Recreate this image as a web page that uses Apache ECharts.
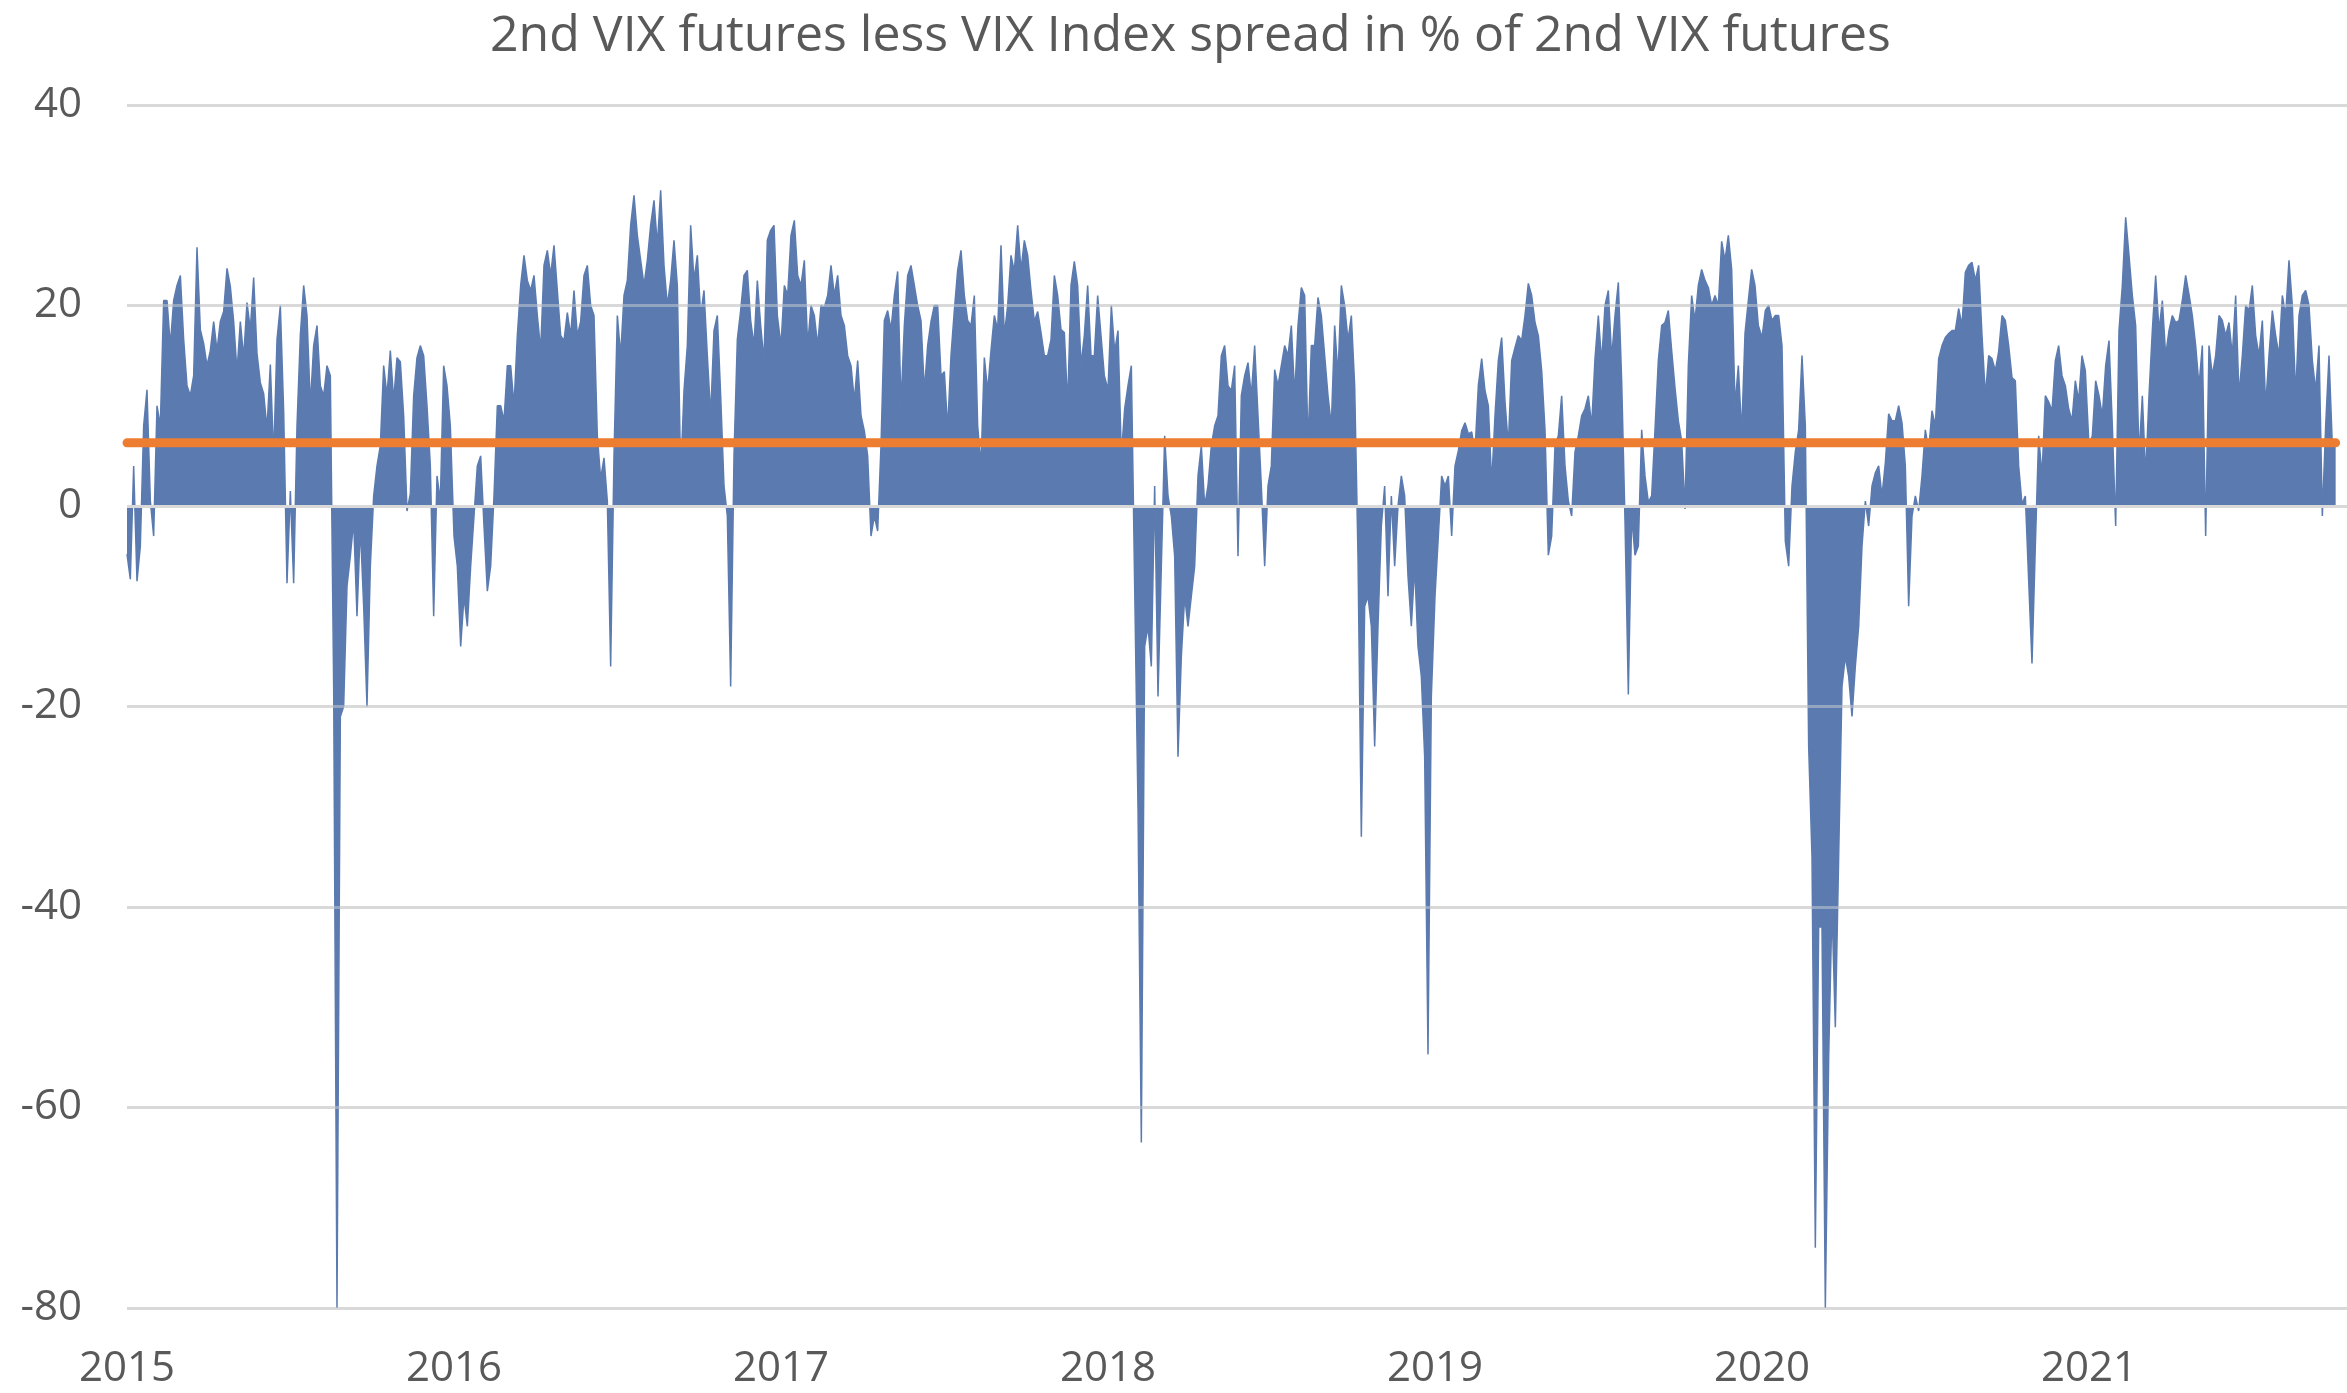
<!DOCTYPE html>
<html>
<head>
<meta charset="utf-8">
<title>2nd VIX futures less VIX Index spread</title>
<script src="https://cdn.jsdelivr.net/npm/echarts@6/dist/echarts.min.js"></script>
<style>
  html, body { margin: 0; padding: 0; background: #fff; }
  #chart { width: 2347px; height: 1393px; }
</style>
</head>
<body>
<div id="chart"></div>
<script>
// spread (%), one value every ~3.7 days (98.1 points per year)
const v2015 = [
  -4.8, -7.3, 4, -7.5, -4, 8, 11.6, 0.5, -3, 10,
  8, 20.5, 20.5, 16, 20.5, 22, 23, 16.6, 12, 11,
  13, 25.8, 17.6, 16.2, 14, 15.5, 18.4, 15.5, 18.4, 19.4,
  23.7, 21.9, 18.4, 13.4, 18.4, 14.8, 20.3, 17.6, 22.8, 15.2,
  12.3, 11.2, 7.7, 14.1, 4.8, 16.6, 20, 9.4, -7.7, 1.5,
  -7.7, 8, 17, 22, 19, 10, 16, 18, 12, 11,
  14, 13, -18, -80, -21, -20, -8, -5, -1.5, -11,
  -2, -10, -20, -6, 1, 4, 6, 14, 11, 15.5,
  10.5, 14.8, 14.4, 9, -0.5, 1.2, 11, 14.8, 16, 15,
  10, 4, -11, 3, 0.5, 14, 12, 8, -2
];
const v2016 = [
  -3, -6, -14, -9, -12, -6, -1, 4, 5, -2,
  -8.5, -6, 1, 10, 10, 8.5, 14, 14, 10, 17,
  22, 25, 22.5, 21.5, 23, 19, 15.5, 24, 25.5, 23,
  26, 21.5, 17, 16.5, 19.3, 17, 21.5, 17, 18.4, 23,
  24, 20, 19, 7, 2.7, 4.8, 0.5, -16, 5, 19,
  15, 21, 22.5, 28, 31, 27, 24.5, 22, 24.5, 28,
  30.5, 26, 31.5, 24, 20, 22.5, 26.5, 22, 3, 11.5,
  16, 28, 22.5, 25, 19, 21.5, 15, 9, 17.5, 19,
  11, 2, -1, -18, 5, 16.6, 19.5, 23, 23.5, 18.5,
  16, 22.5, 18, 14.5, 26.5, 27.5, 28, 19
];
const v2017 = [
  16, 22, 21, 27, 28.5, 23, 22, 24.5, 16, 20,
  19, 16, 20, 19.8, 21, 24, 21, 23, 19, 18,
  15, 14, 10.5, 14.5, 9, 7.5, 5, -3, -1, -2.5,
  6, 18.5, 19.5, 17.6, 21, 23.4, 10, 18, 23, 24,
  22, 20, 18.5, 11.5, 16, 18.4, 20, 20, 13, 13.4,
  7.7, 15, 19.5, 23.5, 25.5, 21, 18.5, 18, 21, 8,
  4, 14.8, 11.5, 15.5, 19, 17.6, 26, 17, 20, 25,
  23.4, 28, 23.5, 26.5, 25, 21.5, 18.4, 19.4, 17.3, 15,
  15, 16.6, 23, 21, 17.6, 17.3, 10, 22, 24.4, 22,
  14, 17, 22, 15, 15, 21, 17, 13
];
const v2018 = [
  11.6, 20, 15.4, 17.5, 5, 9.7, 12, 14, -8, -30,
  -63.5, -14, -12, -16, 2, -19, -6, 7, 1, -1,
  -5, -25, -15, -9, -12, -9, -6, 3, 6, 0,
  2, 6, 8, 9, 15, 16, 12, 11.5, 14, -5,
  11, 13, 14.3, 11, 16, 9, 2, -6, 2, 4,
  13.6, 12, 14, 16, 15, 18, 11, 18, 21.8, 21,
  6, 16, 16, 20.8, 19, 15, 11, 8, 18, 13,
  22, 20, 16.5, 19, 12, -5, -33, -10, -9, -12,
  -24, -12, -2, 2, -9, 1, -6, 0, 3, 1,
  -7, -12, -6, -14, -17, -25, -54.7, -19
];
const v2019 = [
  -9, -3, 3, 2, 3, -3, 4, 5.5, 7.5, 8.3,
  7.2, 7.4, 5.4, 12, 14.7, 11.5, 10, 2.2, 9, 14.5,
  16.8, 10.4, 6, 14.5, 15.8, 17, 16.5, 19, 22.2, 21,
  18.3, 17, 13.5, 7.6, -4.9, -3, 6, 7, 11, 4,
  0.5, -1, 5.4, 7, 9, 9.7, 11, 8, 14.7, 19,
  14.3, 20, 21.5, 14.7, 19, 22.3, 12.5, -1.5, -18.8, -1,
  -4.9, -4, 7.6, 3, 0.4, 1, 7.6, 14.5, 18, 18.3,
  19.5, 15.5, 11.8, 8.5, 6.5, -0.3, 14, 21, 18.5, 22,
  23.6, 22.5, 21.8, 20, 21, 20, 26.4, 24.5, 27, 23.6,
  10, 14, 7.2, 17.2, 20.5, 23.6, 22, 18
];
const v2020 = [
  16.8, 19.5, 20, 18.5, 19, 19, 16, -3.5, -6, 2,
  5.4, 7.6, 15, 8, -24, -35, -74, -42, -42, -80,
  -55, -40, -52, -35, -18, -15, -17, -21, -16, -12,
  -4, 0.5, -2, 2, 3.3, 4, 1, 4.3, 9.2, 8.5,
  8.5, 10, 8.3, 4, -10, -1, 1, -0.5, 3, 7.6,
  5.5, 9.5, 8, 14.7, 16, 16.8, 17.2, 17.5, 17.5, 19.7,
  18, 23.3, 24, 24.3, 22.5, 24, 17, 11, 15, 14.7,
  13.5, 15.4, 19, 18.5, 16, 12.8, 12.5, 4, 0.2, 1,
  -7.4, -15.7, -4, 7, 3, 11, 10.4, 9.5, 14.5, 16,
  13, 12, 9.7, 8.5, 12.5, 10.5, 15, 13.5
];
const v2021 = [
  6, 7, 12.5, 11, 9, 14, 16.5, 8, -2, 17.5,
  22, 28.8, 25, 21, 18, 5, 11, 3, 11, 17.5,
  23, 17.5, 20.5, 15, 17.5, 19, 18.3, 18.5, 20.5, 23,
  21.1, 19, 16, 12, 16, -3, 16, 13, 15, 19,
  18.5, 17, 18.3, 15, 21, 11, 15, 20, 19.5, 22,
  17, 15, 18.5, 10, 15, 19.5, 17, 15, 21, 19,
  24.5, 20, 11, 19, 21, 21.5, 20, 14.5, 11.5, 16,
  -1, 8, 15, 6, 6.5
];
const years = [2015, 2016, 2017, 2018, 2019, 2020, 2021];
const yearValues = [v2015, v2016, v2017, v2018, v2019, v2020, v2021];
const pointsPerYear = 98.1;
const averageSpread = 6.3;   // orange line
const yTicks = [-80, -60, -40, -20, 0, 20, 40];

// x is the position in years (2015.0 = start of 2015)
let spread = [];
yearValues.forEach((vals, k) => {
    vals.forEach((v, j) => spread.push([years[k] + j / pointsPerYear, v]));
});
const lastX = spread[spread.length - 1][0];

const chart = echarts.init(document.getElementById('chart'));
chart.setOption({
    animation: false,
    backgroundColor: '#ffffff',
    title: {
        text: '2nd VIX futures less VIX Index spread in % of 2nd VIX futures',
        left: 485,
        top: 7,
        textStyle: { fontFamily: 'Open Sans', fontSize: 50, fontWeight: 'normal', color: '#595959' }
    },
    grid: { left: 127, right: 0, top: 105, bottom: 85 },
    xAxis: {
        type: 'value',
        min: 2015,
        max: 2015 + 2220 / 327,
        interval: 1,
        axisLine: { show: false },
        axisTick: { show: false },
        splitLine: { show: false },
        axisLabel: {
            showMaxLabel: false,
            margin: 40,
            fontFamily: 'Open Sans',
            fontSize: 42,
            color: '#595959',
            formatter: v => years.includes(v) ? String(v) : ''
        }
    },
    yAxis: {
        type: 'value',
        min: -80,
        max: 40,
        interval: 20,
        axisLine: { show: false },
        axisTick: { show: false },
        splitLine: { lineStyle: { color: '#d9d9d9', width: 3 } },
        axisLabel: { margin: 45, fontFamily: 'Open Sans', fontSize: 42, color: '#595959' }
    },
    series: [
        {
            name: 'spread',
            type: 'line',
            data: spread,
            symbol: 'none',
            sampling: 'none',
            lineStyle: { color: '#5b7bb0', width: 1.5 },
            areaStyle: { color: '#5b7bb0', opacity: 1 },
            // gridlines show through the area in the original
            markLine: {
                silent: true,
                symbol: 'none',
                label: { show: false },
                data: yTicks.map(t => ({
                    yAxis: t,
                    lineStyle: { type: 'solid', width: 3, color: t === 0 ? '#d9d9d9' : 'rgba(217,217,217,0.45)' }
                }))
            },
            z: 2
        },
        {
            name: 'average',
            type: 'line',
            data: [[2015, averageSpread], [lastX, averageSpread]],
            symbol: 'none',
            lineStyle: { color: '#ed7d31', width: 9, cap: 'round' },
            z: 5
        }
    ]
});
</script>
</body>
</html>
